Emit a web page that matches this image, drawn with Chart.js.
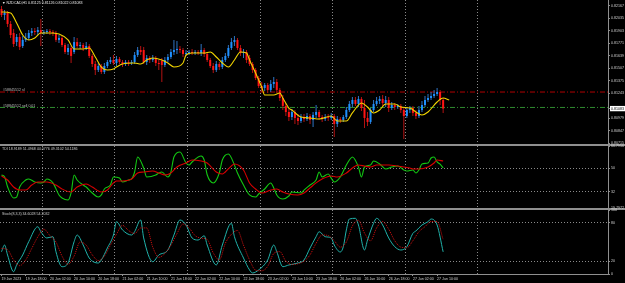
<!DOCTYPE html>
<html>
<head>
<meta charset="utf-8">
<title>NZDCAD,H1</title>
<script src="https://cdn.jsdelivr.net/npm/chart.js@4.4.1/dist/chart.umd.min.js"></script>
<style>
  body { margin: 0; background: #000; }
  #wrap { position: relative; width: 625px; height: 283px; overflow: hidden; background: #000; }
  .pane { position: absolute; left: 0; width: 625px; }
  .pane canvas { display: block; }
  .sep { position: absolute; left: 0; width: 625px; height: 2px; background: #8f8f8f; }
  .lbl { position: absolute; white-space: nowrap; font-family: "Liberation Sans", Arial, sans-serif;
         font-size: 7.2px; line-height: 7.2px; color: #d0d0d0; transform: scale(0.5); transform-origin: 0 0; }
</style>
</head>
<body>
<div id="wrap">
  <div class="sep" style="top:144px"></div>
  <div class="sep" style="top:208px"></div>
  <div class="pane" style="top:0;height:148px"><canvas id="mainChart" width="625" height="148"></canvas></div>
  <div class="pane" style="top:142px;height:70px"><canvas id="tdiChart" width="625" height="70"></canvas></div>
  <div class="pane" style="top:206px;height:77px"><canvas id="stochChart" width="625" height="77"></canvas></div>

  <div class="lbl" style="left:2px;top:1px;color:#e8e8e8">&#9660; NZDCAD,H1 0.81125 0.81126 0.81022 0.81083</div>
  <div class="lbl" style="left:3px;top:88px;color:#bdbdbd">#58845512 sl</div>
  <div class="lbl" style="left:3px;top:103.5px;color:#bdbdbd">#58845512 sell 0.01</div>
  <div class="lbl" style="left:2px;top:146.5px">TDI 18.9189 51.4968 44.0776 49.3102 54.1186</div>
  <div class="lbl" style="left:2px;top:211.5px">Stoch(8,3,3) 34.6028 54.2032</div>
</div>

<script>
// ---- data (H1 bars, 19 Jun 10:00 -> 27 Jun 12:00) ----
const opens = [
  0.82135,0.82072,0.82093,0.81977,0.81882,0.81786,0.81839,0.81744,0.81808,0.81829,
  0.81882,0.81903,0.81892,0.81913,0.81882,0.81892,0.81903,0.81892,0.81882,0.81808,
  0.81829,0.81755,0.81681,0.81723,0.81681,0.81786,0.81744,0.81755,0.81723,0.81744,
  0.81639,0.81554,0.81491,0.81533,0.81470,0.81533,0.81575,0.81596,0.81565,0.81607,
  0.81575,0.81554,0.81575,0.81565,0.81575,0.81649,0.81702,0.81702,0.81575,0.81618,
  0.81596,0.81618,0.81565,0.81586,0.81544,0.81596,0.81628,0.81681,0.81702,0.81713,
  0.81702,0.81660,0.81670,0.81681,0.81670,0.81681,0.81670,0.81702,0.81660,0.81596,
  0.81533,0.81491,0.81554,0.81522,0.81596,0.81639,0.81723,0.81786,0.81808,0.81723,
  0.81670,0.81681,0.81618,0.81554,0.81491,0.81406,0.81322,0.81301,0.81332,0.81280,
  0.81343,0.81364,0.81280,0.81195,0.81111,0.81047,0.80994,0.81047,0.80984,0.80952,
  0.80994,0.80973,0.81005,0.80963,0.81016,0.81047,0.80994,0.80973,0.80994,0.80984,
  0.81005,0.80921,0.80973,0.80963,0.80994,0.81068,0.81132,0.81174,0.81132,0.81185,
  0.81089,0.80984,0.80942,0.81068,0.81132,0.81163,0.81185,0.81142,0.81174,0.81089,
  0.81121,0.81100,0.81111,0.81068,0.81005,0.81068,0.81089,0.81037,0.81005,0.81068,
  0.81121,0.81174,0.81195,0.81216,0.81237,0.81258,0.81174
];
const highs = [
  0.82167,0.82124,0.82114,0.82008,0.81924,0.81871,0.81882,0.81850,0.81882,0.81913,
  0.81934,0.81934,0.81945,0.82029,0.81913,0.81924,0.81924,0.81913,0.81903,0.81860,
  0.81850,0.81776,0.81765,0.81744,0.81839,0.81829,0.81786,0.81776,0.81786,0.81765,
  0.81660,0.81586,0.81565,0.81554,0.81565,0.81596,0.81628,0.81649,0.81639,0.81628,
  0.81596,0.81596,0.81596,0.81596,0.81681,0.81734,0.81744,0.81734,0.81649,0.81639,
  0.81649,0.81639,0.81596,0.81618,0.81628,0.81660,0.81713,0.81808,0.81797,0.81744,
  0.81723,0.81702,0.81702,0.81713,0.81702,0.81702,0.81765,0.81723,0.81681,0.81618,
  0.81565,0.81586,0.81575,0.81628,0.81670,0.81755,0.81829,0.81850,0.81829,0.81755,
  0.81713,0.81702,0.81649,0.81575,0.81512,0.81427,0.81364,0.81354,0.81354,0.81385,
  0.81417,0.81396,0.81301,0.81227,0.81142,0.81089,0.81079,0.81068,0.81026,0.81026,
  0.81026,0.81037,0.81026,0.81047,0.81121,0.81068,0.81016,0.81026,0.81026,0.81037,
  0.81026,0.81005,0.80994,0.81016,0.81100,0.81163,0.81206,0.81206,0.81216,0.81206,
  0.81174,0.81047,0.81089,0.81174,0.81206,0.81216,0.81227,0.81216,0.81206,0.81153,
  0.81142,0.81132,0.81132,0.81100,0.81100,0.81111,0.81111,0.81068,0.81111,0.81163,
  0.81216,0.81237,0.81258,0.81280,0.81301,0.81280,0.81195
];
const lows = [
  0.82050,0.82019,0.81945,0.81829,0.81734,0.81744,0.81702,0.81723,0.81786,0.81808,
  0.81850,0.81860,0.81860,0.81744,0.81860,0.81871,0.81860,0.81850,0.81786,0.81776,
  0.81734,0.81660,0.81649,0.81565,0.81660,0.81723,0.81713,0.81691,0.81702,0.81618,
  0.81522,0.81438,0.81470,0.81449,0.81449,0.81512,0.81554,0.81544,0.81533,0.81554,
  0.81522,0.81533,0.81533,0.81544,0.81554,0.81628,0.81649,0.81554,0.81544,0.81565,
  0.81575,0.81533,0.81491,0.81364,0.81522,0.81575,0.81607,0.81649,0.81660,0.81670,
  0.81628,0.81639,0.81649,0.81649,0.81649,0.81649,0.81639,0.81628,0.81575,0.81512,
  0.81459,0.81470,0.81491,0.81501,0.81575,0.81618,0.81702,0.81744,0.81702,0.81639,
  0.81618,0.81565,0.81533,0.81459,0.81385,0.81301,0.81258,0.81269,0.81248,0.81258,
  0.81301,0.81248,0.81163,0.81068,0.81005,0.80952,0.80963,0.80921,0.80910,0.80931,
  0.80942,0.80952,0.80921,0.80889,0.80984,0.80963,0.80942,0.80952,0.80952,0.80963,
  0.80783,0.80889,0.80931,0.80942,0.80973,0.81047,0.81100,0.81111,0.81100,0.81058,
  0.80878,0.80899,0.80921,0.81047,0.81111,0.81132,0.81111,0.81100,0.81047,0.81068,
  0.81068,0.81079,0.81037,0.80762,0.80984,0.81037,0.81005,0.80973,0.80984,0.81047,
  0.81100,0.81153,0.81174,0.81195,0.81216,0.81121,0.81037
];
const closes = [
  0.82072,0.82093,0.81977,0.81860,0.81765,0.81839,0.81734,0.81808,0.81829,0.81882,
  0.81903,0.81892,0.81913,0.81882,0.81892,0.81903,0.81892,0.81882,0.81808,0.81829,
  0.81755,0.81681,0.81723,0.81639,0.81786,0.81744,0.81755,0.81723,0.81744,0.81639,
  0.81554,0.81491,0.81533,0.81470,0.81533,0.81575,0.81596,0.81565,0.81607,0.81575,
  0.81554,0.81575,0.81565,0.81575,0.81649,0.81702,0.81681,0.81575,0.81618,0.81596,
  0.81618,0.81565,0.81554,0.81544,0.81596,0.81628,0.81681,0.81702,0.81713,0.81702,
  0.81660,0.81670,0.81681,0.81670,0.81681,0.81670,0.81702,0.81660,0.81596,0.81533,
  0.81491,0.81554,0.81522,0.81596,0.81639,0.81723,0.81786,0.81808,0.81723,0.81670,
  0.81681,0.81596,0.81554,0.81491,0.81406,0.81322,0.81301,0.81332,0.81280,0.81343,
  0.81364,0.81280,0.81195,0.81111,0.81047,0.80994,0.81047,0.80984,0.80952,0.80994,
  0.80973,0.81005,0.80963,0.81016,0.81047,0.80994,0.80973,0.80994,0.80984,0.81005,
  0.80921,0.80973,0.80963,0.80994,0.81068,0.81132,0.81174,0.81132,0.81185,0.81089,
  0.80984,0.80942,0.81068,0.81132,0.81163,0.81185,0.81142,0.81174,0.81089,0.81121,
  0.81100,0.81111,0.81068,0.81005,0.81068,0.81089,0.81037,0.81005,0.81068,0.81121,
  0.81174,0.81195,0.81216,0.81237,0.81258,0.81174,0.81083
];

// yellow moving average, read at these bars
const maBars = [0,3,5,7,9,11,13,16,19,22,24,27,29,31,33,35,37,38,40,44,46,48,50,53,55,57,60,61,63,67,
  69,71,73,75,77,79,81,82,84,86,87,90,92,93,95,96,99,102,105,109,111,114,116,119,121,123,125,127,130,132,
  135,137,139,141,144,146,148];
const maVals = [0.82103,0.82093,0.81987,0.81860,0.81808,0.81829,0.81882,0.81882,0.81871,0.81808,
  0.81713,0.81713,0.81723,0.81628,0.81522,0.81491,0.81501,0.81522,0.81554,0.81565,
  0.81554,0.81596,0.81618,0.81596,0.81565,0.81522,0.81565,0.81649,0.81670,0.81670,
  0.81681,0.81628,0.81565,0.81522,0.81596,0.81681,0.81670,0.81596,0.81459,0.81311,
  0.81227,0.81227,0.81248,0.81195,0.81089,0.81068,0.80994,0.80984,0.80973,0.81005,
  0.80952,0.80952,0.81037,0.81142,0.81100,0.81037,0.81068,0.81132,0.81132,0.81100,
  0.81089,0.81047,0.81016,0.81047,0.81153,0.81195,0.81174];

// open order levels
const slPrice = 0.81258;
const sellPrice = 0.81095;
const lastClose = 0.81083;

// price axis labels
const priceTicks = [0.82167,0.82035,0.81903,0.81771,0.81639,0.81507,0.81375,0.81243,0.80979,0.80847,0.80715];

// TDI: green price line and red signal line
const tdiGreenBars = [0,1,2,4,5,6,8,9,11,13,14,15,17,19,20,22,23,24,25,27,28,30,32,33,34,36,37,39,40,42,
  43,44,45,47,48,51,52,53,55,56,57,59,61,62,63,66,67,68,70,72,73,75,77,78,80,82,84,85,87,89,
  90,91,93,95,96,99,100,102,104,105,106,108,109,110,112,114,115,116,118,119,120,122,123,125,127,129,131,133,134,136,
  137,138,139,141,142,143,144,145,146];
const tdiGreen = [44.8,43.5,35.9,27.4,28.1,35.7,41.0,41.8,39.5,38.8,39.5,41.8,38.8,29.7,27.4,25.9,31.2,44.8,41.0,37.2,
  35.7,31.2,28.1,29.7,34.2,37.2,43.3,42.5,39.5,41.0,41.8,47.1,58.5,50.1,43.3,44.8,46.3,47.1,43.3,47.1,
  58.5,62.2,53.9,52.4,54.7,59.2,56.2,45.0,38.8,46.3,56.2,60.7,52.4,46.3,37.2,29.7,28.1,30.4,34.2,38.8,
  35.0,29.7,26.6,28.9,31.9,31.2,33.4,37.2,41.0,47.1,43.3,45.6,42.5,39.5,43.3,52.4,56.2,58.5,50.9,43.3,
  50.9,52.4,55.4,53.2,49.4,50.9,51.6,48.6,47.8,48.6,46.3,48.6,53.2,53.9,57.7,58.5,54.7,53.0,50.1];
const tdiRedBars = [0,2,4,6,8,10,12,15,18,20,23,25,28,30,33,35,37,38,40,43,45,47,50,52,54,56,58,61,63,66,
  68,71,73,75,77,80,82,84,86,89,91,93,95,98,100,102,104,106,109,111,114,116,118,120,122,124,126,128,131,133,
  135,136,138,141,143,144,146];
const tdiRed = [44.1,41.0,35.7,33.4,33.4,37.2,39.5,39.5,37.2,34.2,31.9,35.7,38.0,35.7,31.9,33.4,38.8,40.3,40.3,41.8,
  46.3,47.1,47.8,46.3,44.8,46.3,50.9,53.9,56.2,55.4,53.9,47.1,45.6,49.4,53.2,48.6,38.8,34.2,31.2,33.4,
  34.2,31.9,30.4,29.7,31.2,35.0,38.8,41.8,44.1,43.3,46.3,50.1,52.4,51.6,50.9,52.4,52.4,52.4,51.6,50.9,
  50.1,49.4,49.4,50.9,53.9,56.2,55.4];
const tdiMax = 66.7956;
const tdiMin = 19.7972;
const tdiLevels = [50, 32];

// Stochastic (8,3,3)
const stochMainBars = [0,1,2,4,5,7,9,12,13,15,17,18,20,22,24,25,27,29,32,33,35,37,38,40,43,44,46,47,50,52,
  55,57,59,61,63,65,67,68,71,73,76,77,80,82,83,85,88,90,91,93,95,98,100,102,104,105,107,109,110,112,
  113,114,115,117,118,120,121,123,124,126,128,130,132,134,136,137,139,141,142,144,146];
const stochMain = [34.8,45.3,29.7,3.6,14.1,29.7,50.5,73.9,66.1,56.3,58.3,34.8,11.4,17.2,50.5,60.9,45.3,25.0,17.2,21.9,
  40.6,60.9,81.7,68.8,60.9,66.1,84.4,56.3,19.2,29.7,37.5,60.9,84.4,76.6,56.3,53.1,59.8,45.3,14.1,45.3,
  79.2,58.3,25.0,6.3,1.6,6.3,21.9,45.3,34.8,11.4,14.1,17.2,21.9,40.6,58.3,66.1,58.3,56.3,45.3,34.4,
  42.7,68.8,85.9,87.0,76.6,37.5,53.1,79.2,87.0,76.6,56.3,42.7,37.5,42.7,63.6,67.2,76.6,81.7,85.9,76.6,34.6];
const stochSignalBars = [0,2,4,6,8,10,12,14,16,18,20,22,24,26,28,30,32,34,36,38,40,42,44,46,48,50,52,54,56,58,
  60,62,64,66,68,70,72,74,76,78,80,82,84,86,88,90,92,94,96,98,100,102,104,106,108,110,112,114,116,118,
  120,122,124,126,128,130,132,134,136,138,140,142,144,146];
const stochSignal = [40,38,22,13,22,40,58,70,60,50,28,15,28,50,45,30,21,28,45,62,76,68,63,72,72,42,26,32,45,63,
  78,72,60,56,54,33,22,48,62,68,45,22,6,5,12,32,35,20,15,16,20,30,48,61,60,52,42,50,75,84,
  64,52,72,82,70,52,42,41,52,66,74,82,82,54];
const stochLevels = [80, 20];

// time axis
const dayStartBars = [14, 38, 62, 86, 110, 134, 158];
const labelStep = 8;
const timeLabels = ['19 Jun 2023','19 Jun 18:00','20 Jun 02:00','20 Jun 10:00','20 Jun 18:00','21 Jun 02:00',
  '21 Jun 10:00','21 Jun 18:00','22 Jun 02:00','22 Jun 10:00','22 Jun 18:00','23 Jun 02:00','23 Jun 10:00',
  '23 Jun 18:00','26 Jun 02:00','26 Jun 10:00','26 Jun 18:00','27 Jun 02:00','27 Jun 10:00'];

// ---- look ----
const X_MIN = -0.5, X_MAX = 200.5;
const GRID = '#8a8a8a';
const AXIS = '#8f8f8f';
const TXT = '#d0d0d0';
const FONT = { family: 'Liberation Sans', size: 3.6 };

Chart.defaults.font.family = 'Liberation Sans';

const pts = (xs, ys) => xs.map((x, k) => ({ x: x, y: ys[k] }));

function dayGrid() {
  return {
    type: 'linear', min: X_MIN, max: X_MAX, bounds: 'data', offset: false, position: 'bottom',
    afterBuildTicks: s => { s.ticks = dayStartBars.map(b => ({ value: b - 0.5 })); },
    afterFit: s => { s.height = 0; s.paddingLeft = 0; s.paddingRight = 0; },
    ticks: { display: false },
    grid: { color: GRID, lineWidth: 1, offset: false, drawTicks: false },
    border: { display: false, dash: [1, 2] }
  };
}

function rightAxis(min, max, values, fmt, levels) {
  return {
    type: 'linear', position: 'right', min: min, max: max, bounds: 'data',
    afterBuildTicks: s => { s.ticks = values.map(v => ({ value: v })); },
    afterFit: s => { s.width = 17; s.paddingTop = 0; s.paddingBottom = 0; },
    ticks: { autoSkip: false, font: FONT, color: TXT, padding: 1, callback: fmt },
    grid: {
      color: c => (c.tick && levels.includes(c.tick.value)) ? GRID : 'rgba(0,0,0,0)',
      drawTicks: true, tickLength: 2, tickColor: AXIS, tickBorderDash: []
    },
    border: { color: AXIS, width: 1, dash: [1, 2] }
  };
}

const baseOptions = (padding) => ({
  responsive: false,
  devicePixelRatio: 1,
  animation: false,
  events: [],
  layout: { padding: padding },
  plugins: { legend: { display: false }, tooltip: { enabled: false } }
});

// ---- main price panel ----
const bars = closes.map((c, i) => i);
const up = closes.map((c, i) => c >= opens[i]);

const mainY = rightAxis(0.80709, 0.82230, priceTicks.concat([lastClose]), v => v.toFixed(5), []);
mainY.ticks.color = c => (c.tick && c.tick.value === lastClose) ? '#000' : TXT;
mainY.ticks.showLabelBackdrop = c => !!(c.tick && c.tick.value === lastClose);
mainY.ticks.backdropColor = '#fff';
mainY.ticks.backdropPadding = { top: 0.5, bottom: 0.5, left: 1, right: 1 };

new Chart(document.getElementById('mainChart'), {
  type: 'bar',
  data: {
    datasets: [
      {
        type: 'line', data: [{ x: X_MIN, y: slPrice }, { x: X_MAX, y: slPrice }],
        borderColor: '#b00000', borderWidth: 1, borderDash: [5, 2, 1, 2], pointRadius: 0, order: 5
      },
      {
        type: 'line', data: [{ x: X_MIN, y: sellPrice }, { x: X_MAX, y: sellPrice }],
        borderColor: '#2f8a2f', borderWidth: 1, borderDash: [5, 2, 1, 2], pointRadius: 0, order: 5
      },
      {
        type: 'bar', data: bars.map(i => ({ x: i, y: [lows[i], highs[i]] })),
        backgroundColor: up.map(u => u ? '#2f74c4' : '#b31212'),
        grouped: false, maxBarThickness: 1, borderWidth: 0, order: 3
      },
      {
        type: 'bar', data: bars.map(i => ({ x: i, y: [opens[i], closes[i]] })),
        backgroundColor: up.map(u => u ? '#1e90ff' : '#ff1414'),
        grouped: false, maxBarThickness: 2, minBarLength: 1, borderWidth: 0, order: 2
      },
      {
        type: 'line', data: pts(maBars, maVals),
        borderColor: '#f2d500', borderWidth: 1.1, pointRadius: 0,
        cubicInterpolationMode: 'monotone', order: 1
      }
    ]
  },
  options: Object.assign(baseOptions({ top: 0, bottom: 4, left: 0, right: 0 }), {
    scales: { x: dayGrid(), y: mainY }
  })
});

// ---- TDI panel ----
new Chart(document.getElementById('tdiChart'), {
  type: 'line',
  data: {
    datasets: [
      { data: pts(tdiGreenBars, tdiGreen), borderColor: '#12c812', borderWidth: 1.1, pointRadius: 0, cubicInterpolationMode: 'monotone', order: 2 },
      { data: pts(tdiRedBars, tdiRed), borderColor: '#d80000', borderWidth: 1.1, pointRadius: 0, cubicInterpolationMode: 'monotone', order: 1 }
    ]
  },
  options: Object.assign(baseOptions({ top: 4, bottom: 4, left: 0, right: 0 }), {
    scales: {
      x: dayGrid(),
      y: rightAxis(tdiMin, tdiMax, [tdiMax, 50, 32, tdiMin],
        v => (v === tdiMax || v === tdiMin) ? v.toFixed(4) : String(v), tdiLevels)
    }
  })
});

// ---- Stochastic panel + time axis ----
new Chart(document.getElementById('stochChart'), {
  type: 'line',
  data: {
    datasets: [
      { data: pts(stochMainBars, stochMain), borderColor: '#20b2aa', borderWidth: 1, pointRadius: 0, cubicInterpolationMode: 'monotone', order: 2 },
      { data: pts(stochSignalBars, stochSignal), borderColor: '#d01010', borderWidth: 1, borderDash: [1, 1], pointRadius: 0, cubicInterpolationMode: 'monotone', order: 1 }
    ]
  },
  options: Object.assign(baseOptions({ top: 4, bottom: 0, left: 0, right: 0 }), {
    scales: {
      x: dayGrid(),
      xt: {
        type: 'linear', min: X_MIN, max: X_MAX, bounds: 'data', offset: false, position: 'bottom',
        afterBuildTicks: s => { s.ticks = timeLabels.map((t, k) => ({ value: k * labelStep })); },
        afterFit: s => { s.height = 9; s.paddingLeft = 0; s.paddingRight = 0; },
        ticks: {
          display: true, align: 'start', maxRotation: 0, minRotation: 0, autoSkip: false,
          font: FONT, color: TXT, padding: 0.5, callback: (v, i) => timeLabels[i]
        },
        grid: { drawOnChartArea: false, drawTicks: true, tickLength: 2, tickColor: AXIS, offset: false },
        border: { color: AXIS, width: 1 }
      },
      y: rightAxis(0, 100, [100, 80, 20, 0], v => String(v), stochLevels)
    }
  })
});
</script>
</body>
</html>
